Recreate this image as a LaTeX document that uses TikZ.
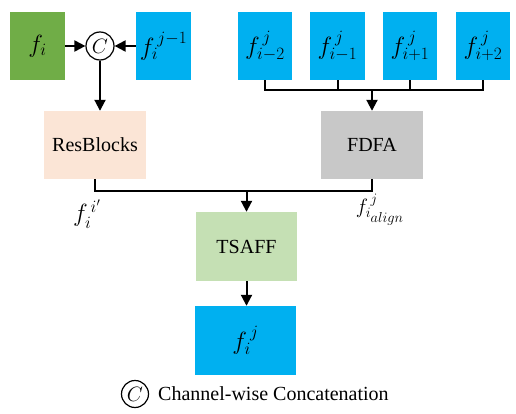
\documentclass[tikz,border=0pt]{standalone}
\usepackage{fontspec}
\setmainfont{Liberation Serif}
\usetikzlibrary{arrows.meta}
\definecolor{cgreen}{HTML}{70AD47}
\definecolor{cblue}{HTML}{00B0F0}
\definecolor{cpeach}{HTML}{FBE5D6}
\definecolor{cgray}{HTML}{C8C8C8}
\definecolor{clgreen}{HTML}{C5E0B4}
\begin{document}
\begin{tikzpicture}[x=1pt,y=-1pt,
  every node/.style={font=\fontsize{20}{24}\selectfont, inner sep=0pt},
  mth/.style={font=\fontsize{23}{26}\selectfont},
  fbox/.style={rectangle, minimum width=55pt, minimum height=68pt, mth},
  wbox/.style={rectangle, minimum width=102pt, minimum height=68pt},
  conc/.style={circle, draw, line width=1.2pt, minimum size=28pt, inner sep=0pt, font=\fontsize{21}{24}\selectfont},
  link/.style={line width=2pt},
  arr/.style={line width=2pt, -{Triangle[length=11pt,width=11pt]}}]
\useasboundingbox (0,0) rectangle (516,414);
% top row
\node[fbox, fill=cgreen] (fi) at (37.5,46) {$f_i$};
\node[conc] (C) at (100,46) {$C$};
\node[fbox, fill=cblue] (fj1) at (163.5,46) {$f_i^{\,j-1}$};
\node[fbox, fill=cblue, minimum width=54pt] (b1) at (265,46) {$f_{i-2}^{\,j}$};
\node[fbox, fill=cblue] (b2) at (337.5,46) {$f_{i-1}^{\,j}$};
\node[fbox, fill=cblue, minimum width=54pt] (b3) at (410,46) {$f_{i+1}^{\,j}$};
\node[fbox, fill=cblue, minimum width=54pt] (b4) at (483,46) {$f_{i+2}^{\,j}$};
% middle row
\node[wbox, fill=cpeach] (res) at (95,145) {ResBlocks};
\node[wbox, fill=cgray] (fdfa) at (372,145) {FDFA};
% lower
\node[wbox, fill=clgreen, minimum width=101pt, minimum height=69pt] (tsaff) at (246.5,246.5) {TSAFF};
\node[wbox, fill=cblue, minimum width=101pt, minimum height=69pt, mth] (out) at (245.5,340.5) {$f_i^{\,j}$};
% labels
\node[mth] (l1) at (87,214) {$f_i^{\,i'}$};
\node[font=\fontsize{21}{24}\selectfont] (l2) at (380,210) {$f_{i_{\scriptstyle align}}^{\,j}$};
% legend
\node[conc, minimum size=27pt] (lc) at (135,394) {$C$};
\node[anchor=west] (lt) at (158,394) {Channel-wise Concatenation};
% connectors
\draw[arr] (fi.east) -- (C.west);
\draw[arr] (fj1.west) -- (C.east);
\draw[arr] (C.south) -- (C.south |- res.north);
\coordinate (t1) at (b1.south |- 0,90);
\coordinate (t4) at (b4.south |- 0,90);
\draw[link] (b1.south) -- (t1) -- (t4) -- (b4.south);
\draw[link] (b2.south) -- (b2.south |- t1);
\draw[link] (b3.south) -- (b3.south |- t1);
\draw[arr] (fdfa.north |- t1) -- (fdfa.north);
\coordinate (m1) at (res.south |- 0,191);
\coordinate (m2) at (fdfa.south |- 0,191);
\draw[link] (res.south) -- (m1) -- (m2) -- (fdfa.south);
\draw[arr] (tsaff.north |- m1) -- (tsaff.north);
\draw[arr] (tsaff.south) -- (tsaff.south |- out.north);
\end{tikzpicture}
\end{document}
